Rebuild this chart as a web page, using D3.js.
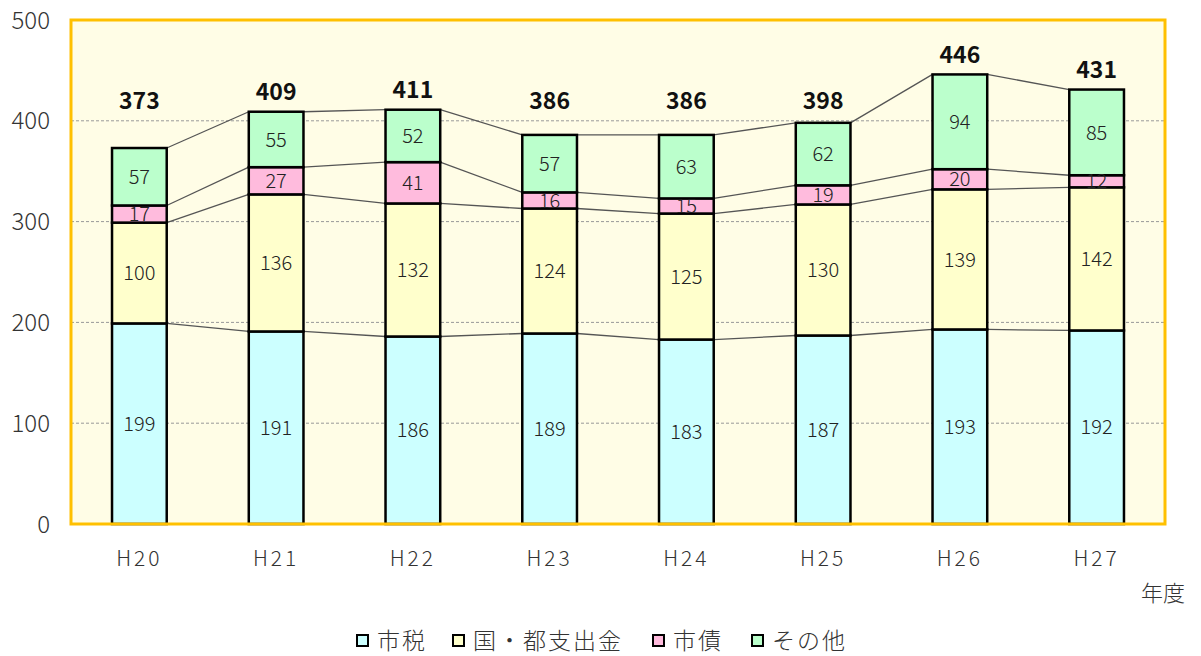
<!DOCTYPE html>
<html>
<head>
<meta charset="utf-8">
<script src="https://cdn.jsdelivr.net/npm/d3@7"></script>
<style>
body { margin: 0; background: #fff; }
svg text { font-family: "Noto Sans CJK JP", "DejaVu Sans", sans-serif; font-weight: 300; }
</style>
</head>
<body>
<svg id="chart" width="1201" height="656"></svg>
<script>
let years = ["H20", "H21", "H22", "H23", "H24", "H25", "H26", "H27"]
let seriesNames = ["市税", "国・都支出金", "市債", "その他"]
let shizei = [199, 191, 186, 189, 183, 187, 193, 192]
let shishutsu = [100, 136, 132, 124, 125, 130, 139, 142]
let shisai = [17, 27, 41, 16, 15, 19, 20, 12]
let sonota = [57, 55, 52, 57, 63, 62, 94, 85]
let totals = [373, 409, 411, 386, 386, 398, 446, 431]
let yTicks = [0, 100, 200, 300, 400, 500]

let colors = ["#ccffff", "#ffffcc", "#ffbbdd", "#bbffcc"]

let svg = d3.select("#chart")
let margin = {left: 71, top: 20, right: 36, bottom: 132}
let width = 1201 - margin.left - margin.right
let height = 656 - margin.top - margin.bottom

let table = years.map((y, i) => ({
    year: y, s0: shizei[i], s1: shishutsu[i], s2: shisai[i], s3: sonota[i]
}))
let stack = d3.stack().keys(["s0", "s1", "s2", "s3"])(table)

let x = d3.scaleBand(years, [margin.left, margin.left + width]).paddingInner(0.6).paddingOuter(0.3)
let y = d3.scaleLinear([0, 500], [margin.top + height, margin.top])

// plot background
svg.append("rect")
    .attr("x", margin.left).attr("y", margin.top)
    .attr("width", width).attr("height", height)
    .attr("fill", "#fffde6")

// gridlines
svg.selectAll(".grid")
    .data(yTicks.filter(d => d > 0 && d < 500))
    .enter().append("line")
    .attr("x1", margin.left).attr("x2", margin.left + width)
    .attr("y1", d => y(d)).attr("y2", d => y(d))
    .attr("stroke", "#999").attr("stroke-dasharray", "3,2").attr("stroke-width", 1)

// connector lines between bars
let bw = x.bandwidth()
stack.forEach(layer => {
    for (let i = 0; i < years.length - 1; i++) {
        svg.append("line")
            .attr("x1", x(years[i]) + bw).attr("y1", y(layer[i][1]))
            .attr("x2", x(years[i + 1])).attr("y2", y(layer[i + 1][1]))
            .attr("stroke", "#555").attr("stroke-width", 1.3)
    }
})

// bars
stack.forEach((layer, k) => {
    svg.selectAll(".bar" + k)
        .data(layer)
        .enter().append("rect")
        .attr("x", d => x(d.data.year))
        .attr("y", d => y(d[1]))
        .attr("width", bw)
        .attr("height", d => y(d[0]) - y(d[1]))
        .attr("fill", colors[k])
        .attr("stroke", "#000").attr("stroke-width", 2.5)
})

// segment labels
stack.forEach((layer, k) => {
    svg.selectAll(".lab" + k)
        .data(layer)
        .enter().append("text")
        .attr("x", d => x(d.data.year) + bw / 2)
        .attr("y", d => (y(d[0]) + y(d[1])) / 2)
        .attr("dy", "0.36em")
        .attr("text-anchor", "middle")
        .attr("font-size", 20)
        .attr("fill", "#222")
        .text(d => d[1] - d[0])
})

// totals: sit above the bar, but never lower than the 420 level
svg.selectAll(".tot")
    .data(totals)
    .enter().append("text")
    .attr("x", (d, i) => x(years[i]) + bw / 2)
    .attr("y", d => y(Math.max(d, 400) + 20))
    .attr("dy", "0.36em")
    .attr("text-anchor", "middle")
    .attr("font-size", 23)
    .style("font-weight", "bold")
    .attr("fill", "#111")
    .text(d => d)

// plot border
svg.append("rect")
    .attr("x", margin.left).attr("y", margin.top)
    .attr("width", width).attr("height", height)
    .attr("fill", "none").attr("stroke", "#ffc000").attr("stroke-width", 3)

// y axis labels
svg.selectAll(".ytick")
    .data(yTicks)
    .enter().append("text")
    .attr("x", 50)
    .attr("y", d => y(d))
    .attr("dy", "0.36em")
    .attr("text-anchor", "end")
    .attr("font-size", 24)
    .attr("fill", "#333")
    .text(d => d)

// x axis labels
svg.selectAll(".xtick")
    .data(years)
    .enter().append("text")
    .attr("x", d => x(d) + bw / 2)
    .attr("y", 558)
    .attr("dy", "0.36em")
    .attr("text-anchor", "middle")
    .attr("font-size", 21)
    .attr("fill", "#333")
    .attr("letter-spacing", 3)
    .text(d => d)

svg.append("text")
    .attr("x", 1163).attr("y", 593).attr("dy", "0.36em")
    .attr("text-anchor", "middle")
    .attr("font-size", 22).attr("fill", "#333")
    .text("年度")

// legend
let legendX = [357, 453, 653, 752]
seriesNames.forEach((n, i) => {
    let g = svg.append("g").attr("transform", `translate(${legendX[i]},641)`)
    g.append("rect").attr("x", 0).attr("y", -6).attr("width", 11).attr("height", 11)
        .attr("fill", colors[i]).attr("stroke", "#000").attr("stroke-width", 2)
    g.append("text").attr("x", 20).attr("y", 0).attr("dy", "0.36em")
        .attr("font-size", 23).attr("letter-spacing", 2).attr("fill", "#333").text(n)
})
</script>
</body>
</html>
